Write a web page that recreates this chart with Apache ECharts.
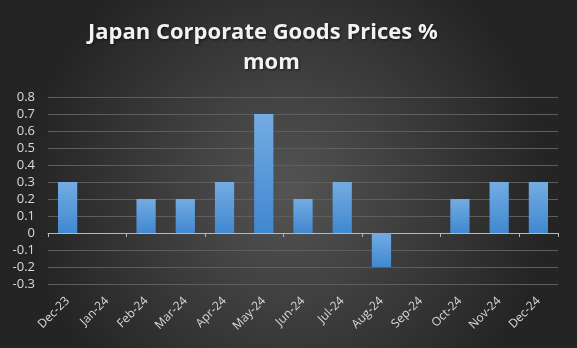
<!DOCTYPE html>
<html>
<head>
<meta charset="utf-8">
<script src="https://cdn.jsdelivr.net/npm/echarts@6/dist/echarts.min.js"></script>
<style>
  html, body { margin: 0; padding: 0; background: #2a2a2a; }
  #chart { width: 577px; height: 348px; }
</style>
</head>
<body>
<div id="chart"></div>
<script>
const categories = ['Dec-23', 'Jan-24', 'Feb-24', 'Mar-24', 'Apr-24', 'May-24', 'Jun-24',
  'Jul-24', 'Aug-24', 'Sep-24', 'Oct-24', 'Nov-24', 'Dec-24'];
const momValues = [0.3, 0, 0.2, 0.2, 0.3, 0.7, 0.2, 0.3, -0.2, 0, 0.2, 0.3, 0.3];
const titleLines = ['Japan Corporate Goods Prices %', 'mom'];
const yMin = -0.3;
const yMax = 0.8;
const yStep = 0.1;

const chart = echarts.init(document.getElementById('chart'));

const titleStyle = {
  fontFamily: 'Open Sans',
  fontSize: 22,
  fontWeight: 'bold',
  color: '#f2f2f2',
  textShadowColor: 'rgba(0,0,0,0.6)',
  textShadowBlur: 3,
  textShadowOffsetX: 1,
  textShadowOffsetY: 1
};

const option = {
  backgroundColor: {
    type: 'radial', x: 0.5, y: 0.55, r: 0.75,
    colorStops: [
      { offset: 0, color: '#545454' },
      { offset: 1, color: '#242424' }
    ]
  },
  title: [
    { text: titleLines[0], left: 83, top: 17, textStyle: titleStyle },
    { text: titleLines[1], left: 238, top: 47, textStyle: titleStyle }
  ],
  grid: { left: 48, right: 19, top: 97, bottom: 64 },
  xAxis: [
    {
      type: 'category',
      data: categories,
      position: 'bottom',
      axisLine: { show: false, onZero: false },
      axisTick: { show: false },
      axisLabel: {
        rotate: 45,
        interval: 0,
        color: '#d9d9d9',
        fontFamily: 'Open Sans',
        fontSize: 12,
        margin: 15
      }
    },
    {
      type: 'category',
      data: categories,
      position: 'bottom',
      axisLine: { show: true, onZero: true, lineStyle: { color: '#b8b8b8', width: 1 } },
      axisTick: { show: true, length: 4, lineStyle: { color: '#b8b8b8' } },
      axisLabel: { show: false }
    }
  ],
  yAxis: {
    type: 'value',
    min: yMin,
    max: yMax,
    interval: yStep,
    axisLine: { show: false },
    axisTick: { show: false },
    splitLine: { lineStyle: { color: '#5e5e5e', width: 1 } },
    axisLabel: {
      color: '#d9d9d9',
      fontFamily: 'Open Sans',
      fontSize: 13,
      margin: 13,
      formatter: v => String(Math.round(v * 10) / 10)
    }
  },
  series: [{
    type: 'bar',
    xAxisIndex: 0,
    data: momValues,
    barWidth: '49%',
    itemStyle: {
      color: {
        type: 'linear', x: 0, y: 0, x2: 0, y2: 1,
        colorStops: [
          { offset: 0, color: '#74ace2' },
          { offset: 1, color: '#4088d0' }
        ]
      },
      borderWidth: 0,
      shadowColor: 'rgba(0,0,0,0.55)',
      shadowBlur: 4,
      shadowOffsetX: 2,
      shadowOffsetY: 2
    }
  }]
};

chart.setOption(option);
</script>
</body>
</html>
